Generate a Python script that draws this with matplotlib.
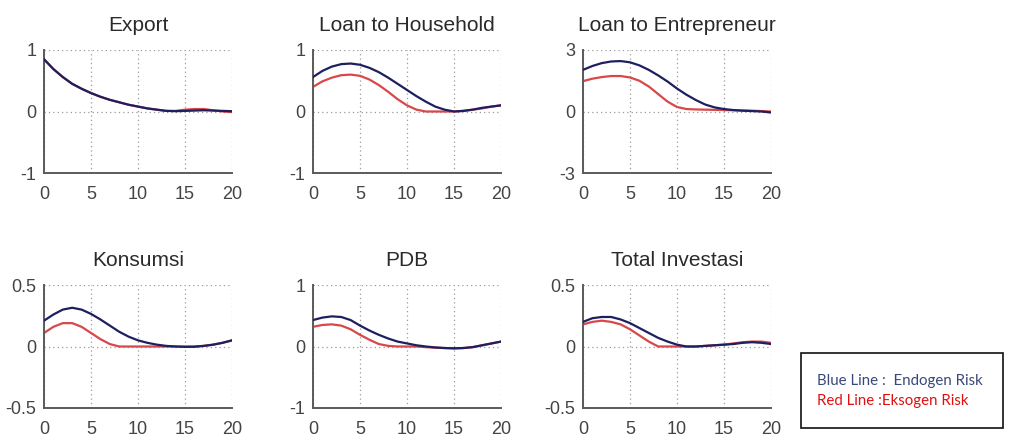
import matplotlib
matplotlib.use("Agg")
import matplotlib.pyplot as plt
from matplotlib.patches import Rectangle

# Impulse responses over 20 periods
periods = list(range(21))

titles = ["Export", "Loan to Household", "Loan to Entrepreneur",
          "Konsumsi", "PDB", "Total Investasi"]

export_endo = [0.85, 0.69, 0.56, 0.45, 0.37, 0.30, 0.24, 0.19, 0.15, 0.11, 0.08,
               0.05, 0.03, 0.01, 0.005, 0.01, 0.015, 0.02, 0.015, 0.01, 0.005]
export_exo = [0.85, 0.69, 0.56, 0.45, 0.37, 0.30, 0.24, 0.19, 0.15, 0.11, 0.08,
              0.05, 0.03, 0.01, 0.01, 0.03, 0.04, 0.04, 0.02, 0.0, -0.01]

loan_hh_endo = [0.56, 0.66, 0.73, 0.77, 0.78, 0.76, 0.71, 0.64, 0.55, 0.45, 0.35,
                0.25, 0.16, 0.08, 0.03, 0.0, 0.01, 0.03, 0.06, 0.08, 0.10]
loan_hh_exo = [0.40, 0.49, 0.55, 0.59, 0.60, 0.58, 0.52, 0.43, 0.32, 0.20, 0.10,
               0.03, 0.0, 0.0, 0.0, 0.0, 0.01, 0.03, 0.05, 0.08, 0.10]

loan_ent_endo = [2.03, 2.22, 2.36, 2.44, 2.46, 2.40, 2.25, 2.03, 1.76, 1.46, 1.12,
                 0.82, 0.56, 0.34, 0.20, 0.12, 0.07, 0.04, 0.02, 0.0, -0.05]
loan_ent_exo = [1.48, 1.60, 1.68, 1.73, 1.73, 1.66, 1.50, 1.22, 0.85, 0.48, 0.22,
                0.12, 0.10, 0.09, 0.08, 0.07, 0.06, 0.05, 0.04, 0.02, 0.0]

konsumsi_endo = [0.21, 0.26, 0.30, 0.315, 0.30, 0.265, 0.22, 0.17, 0.12, 0.08, 0.05,
                 0.03, 0.015, 0.005, 0.0, -0.003, -0.002, 0.005, 0.015, 0.03, 0.05]
konsumsi_exo = [0.11, 0.16, 0.19, 0.19, 0.16, 0.11, 0.06, 0.02, 0.0, 0.0, 0.0,
                0.0, 0.0, 0.0, 0.0, 0.0, 0.0, 0.005, 0.015, 0.03, 0.05]

pdb_endo = [0.43, 0.47, 0.49, 0.48, 0.43, 0.34, 0.26, 0.19, 0.13, 0.08, 0.05,
            0.02, 0.0, -0.015, -0.025, -0.03, -0.025, -0.01, 0.02, 0.05, 0.08]
pdb_exo = [0.32, 0.35, 0.36, 0.34, 0.28, 0.19, 0.11, 0.04, 0.01, 0.0, 0.0,
           0.0, -0.01, -0.02, -0.025, -0.03, -0.025, -0.01, 0.02, 0.05, 0.08]

investasi_endo = [0.20, 0.23, 0.24, 0.24, 0.22, 0.19, 0.15, 0.11, 0.07, 0.04, 0.015,
                  0.0, 0.0, 0.005, 0.01, 0.015, 0.02, 0.03, 0.035, 0.03, 0.02]
investasi_exo = [0.18, 0.20, 0.21, 0.20, 0.18, 0.14, 0.09, 0.04, 0.0, 0.0, 0.0,
                 0.0, 0.0, 0.005, 0.01, 0.015, 0.025, 0.035, 0.04, 0.04, 0.03]

endogen = [export_endo, loan_hh_endo, loan_ent_endo, konsumsi_endo, pdb_endo, investasi_endo]
eksogen = [export_exo, loan_hh_exo, loan_ent_exo, konsumsi_exo, pdb_exo, investasi_exo]

y_limits = [1, 1, 3, 0.5, 1, 0.5]
y_tick_labels = [["-1", "0", "1"], ["-1", "0", "1"], ["-3", "0", "3"],
                 ["-0.5", "0", "0.5"], ["-1", "0", "1"], ["-0.5", "0", "0.5"]]
x_ticks = [0, 5, 10, 15, 20]

legend_lines = ["Blue Line :  Endogen Risk", "Red Line :Eksogen Risk"]

BLUE = "#1d1f5e"
RED = "#d8484a"
W, H = 1009, 443

plt.rcParams["font.family"] = ["Liberation Sans", "DejaVu Sans"]
fig = plt.figure(figsize=(W / 100, H / 100), dpi=100)

col_left = [44, 313, 583]
ax_width = 188
row_top = [50, 285]
ax_height = [123, 123]

for i in range(6):
    r, c = divmod(i, 3)
    left = col_left[c] / W
    bottom = 1 - (row_top[r] + ax_height[r]) / H
    ax = fig.add_axes([left, bottom, ax_width / W, ax_height[r] / H])
    lim = y_limits[i]
    ax.plot(periods, endogen[i], color=BLUE, lw=1.6, zorder=3)
    ax.plot(periods, eksogen[i], color=RED, lw=1.6, zorder=2)
    ax.set_xlim(0, 20)
    ax.set_ylim(-lim, lim)
    ax.set_xticks(x_ticks)
    ax.set_yticks([-lim, 0, lim])
    ax.set_yticklabels(y_tick_labels[i])
    ax.grid(True, linestyle=(0, (1, 2.5)), color="#9a9a9a", lw=0.9)
    for side in ("top", "right"):
        ax.spines[side].set_visible(False)
    for side in ("left", "bottom"):
        ax.spines[side].set_color("#5a5a5a")
        ax.spines[side].set_linewidth(1.4)
    ax.tick_params(length=0, labelsize=13, labelcolor="#444444")
    ax.tick_params(axis="x", pad=9.5)
    ax.tick_params(axis="y", pad=5.5)
    ax.set_title(titles[i], fontsize=15, color="#2a2a2a", pad=14)

# Legend note box
fig.patches.append(Rectangle((801 / W, 1 - 428 / H), 202 / W, 75 / H,
                             transform=fig.transFigure, facecolor="white",
                             edgecolor="#111111", lw=1.2))
fig.text(817 / W, 1 - 381 / H, legend_lines[0], color="#3a4878",
         fontsize=10.8, family=["Lato", "DejaVu Sans"], va="center")
fig.text(817 / W, 1 - 401 / H, legend_lines[1], color="#e01010",
         fontsize=10.8, family=["Lato", "DejaVu Sans"], va="center")

fig.savefig("out.png", dpi=100)
